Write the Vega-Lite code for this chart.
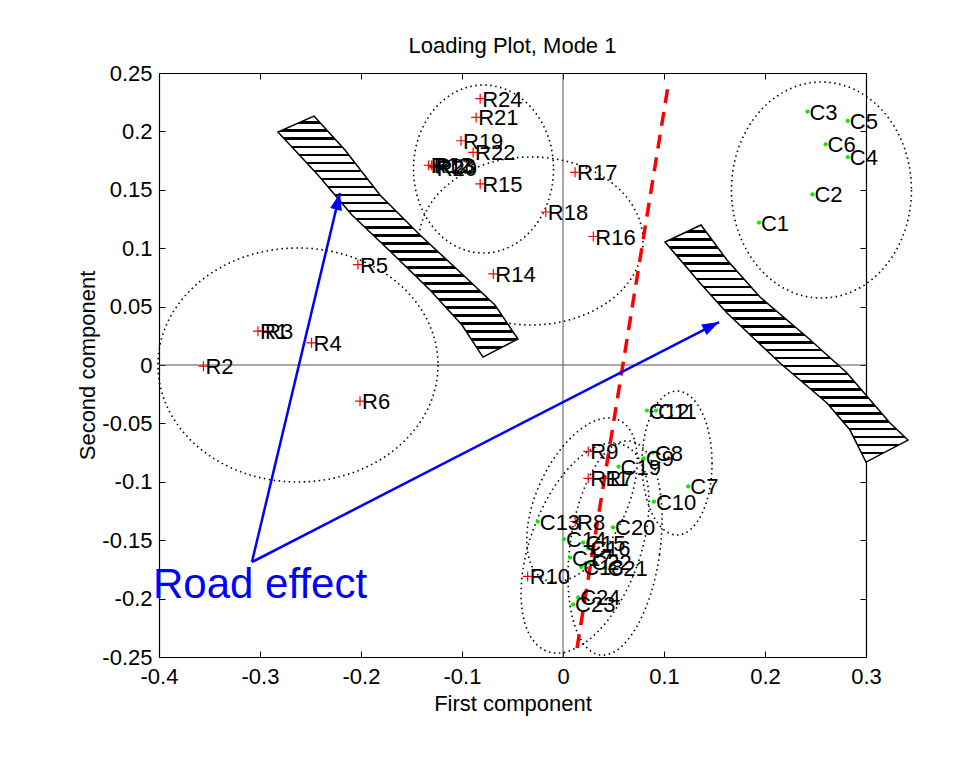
{
  "$schema": "https://vega.github.io/schema/vega-lite/v6.json",
  "width": 707,
  "height": 584,
  "autosize": {"type": "none"},
  "padding": {"left": 159, "top": 73, "right": 112, "bottom": 100},
  "background": "white",
  "config": {
    "view": {"stroke": null},
    "font": "Liberation Sans",
    "axis": {"grid": false}
  },
  "title": {"text": "Loading Plot, Mode 1", "fontSize": 22, "fontWeight": "normal", "font": "Liberation Sans", "color": "black", "baseline": "bottom", "offset": 19, "frame": "group", "dy": 37},
  "datasets": {
    "pts": [
      {"label": "R1", "group": "R", "x": -0.302, "y": 0.029},
      {"label": "R2", "group": "R", "x": -0.356, "y": -0.001},
      {"label": "R3", "group": "R", "x": -0.297, "y": 0.029},
      {"label": "R4", "group": "R", "x": -0.249, "y": 0.019},
      {"label": "R5", "group": "R", "x": -0.203, "y": 0.086},
      {"label": "R6", "group": "R", "x": -0.201, "y": -0.031},
      {"label": "R7", "group": "R", "x": 0.040, "y": -0.097},
      {"label": "R8", "group": "R", "x": 0.012, "y": -0.134},
      {"label": "R9", "group": "R", "x": 0.025, "y": -0.074},
      {"label": "R10", "group": "R", "x": -0.035, "y": -0.181},
      {"label": "R11", "group": "R", "x": 0.025, "y": -0.097},
      {"label": "R12", "group": "R", "x": -0.133, "y": 0.171},
      {"label": "R13", "group": "R", "x": -0.130, "y": 0.171},
      {"label": "R14", "group": "R", "x": -0.069, "y": 0.078},
      {"label": "R15", "group": "R", "x": -0.082, "y": 0.155},
      {"label": "R16", "group": "R", "x": 0.030, "y": 0.110},
      {"label": "R17", "group": "R", "x": 0.012, "y": 0.165},
      {"label": "R18", "group": "R", "x": -0.017, "y": 0.131},
      {"label": "R19", "group": "R", "x": -0.101, "y": 0.192},
      {"label": "R20", "group": "R", "x": -0.127, "y": 0.169},
      {"label": "R21", "group": "R", "x": -0.086, "y": 0.212},
      {"label": "R22", "group": "R", "x": -0.089, "y": 0.182},
      {"label": "R23", "group": "R", "x": -0.128, "y": 0.170},
      {"label": "R24", "group": "R", "x": -0.082, "y": 0.228},
      {"label": "C1", "group": "C", "x": 0.194, "y": 0.122},
      {"label": "C2", "group": "C", "x": 0.247, "y": 0.146},
      {"label": "C3", "group": "C", "x": 0.242, "y": 0.217},
      {"label": "C4", "group": "C", "x": 0.282, "y": 0.178},
      {"label": "C5", "group": "C", "x": 0.282, "y": 0.209},
      {"label": "C6", "group": "C", "x": 0.260, "y": 0.189},
      {"label": "C7", "group": "C", "x": 0.124, "y": -0.104},
      {"label": "C8", "group": "C", "x": 0.089, "y": -0.075},
      {"label": "C9", "group": "C", "x": 0.080, "y": -0.080},
      {"label": "C10", "group": "C", "x": 0.090, "y": -0.117},
      {"label": "C11", "group": "C", "x": 0.092, "y": -0.039},
      {"label": "C12", "group": "C", "x": 0.083, "y": -0.039},
      {"label": "C13", "group": "C", "x": -0.025, "y": -0.134},
      {"label": "C14", "group": "C", "x": 0.001, "y": -0.149},
      {"label": "C15", "group": "C", "x": 0.020, "y": -0.152},
      {"label": "C16", "group": "C", "x": 0.025, "y": -0.157},
      {"label": "C17", "group": "C", "x": 0.007, "y": -0.165},
      {"label": "C18", "group": "C", "x": 0.018, "y": -0.173},
      {"label": "C19", "group": "C", "x": 0.055, "y": -0.087},
      {"label": "C20", "group": "C", "x": 0.0495, "y": -0.139},
      {"label": "C21", "group": "C", "x": 0.042, "y": -0.174},
      {"label": "C22", "group": "C", "x": 0.026, "y": -0.169},
      {"label": "C23", "group": "C", "x": 0.010, "y": -0.205},
      {"label": "C24", "group": "C", "x": 0.015, "y": -0.199}
    ],
    "ell": [
      {"id": "A", "x": -0.2624, "y": 0.0},
      {"id": "B", "x": -0.0787, "y": 0.1678},
      {"id": "C", "x": -0.0317, "y": 0.1062},
      {"id": "D", "x": 0.2559, "y": 0.1498},
      {"id": "E1", "x": 0.1129, "y": -0.0839},
      {"id": "E2", "x": 0.0515, "y": -0.1567},
      {"id": "E3", "x": 0.0188, "y": -0.1156},
      {"id": "E4", "x": 0.0218, "y": -0.1567}
    ],
    "bands": [
      {"id": "L", "x": -0.1634, "y": 0.1104},
      {"id": "R", "x": 0.2198, "y": 0.0188}
    ],
    "segs": [
      {"id": "red", "x": 0.0139, "y": -0.2423, "x2": 0.104, "y2": 0.2389},
      {"id": "a1", "x": -0.308, "y": -0.1687, "x2": -0.2208, "y2": 0.1473},
      {"id": "a2", "x": -0.308, "y": -0.1687, "x2": 0.1545, "y2": 0.0368}
    ],
    "tips": [
      {"id": "a1", "x": -0.2208, "y": 0.1473},
      {"id": "a2", "x": 0.1545, "y": 0.0368}
    ],
    "zero": [
      {"x": -0.4, "y": 0, "x2": 0.3, "y2": 0},
      {"x": 0, "y": -0.25, "x2": 0, "y2": 0.25}
    ],
    "note": [
      {"text": "Road effect", "x": -0.4059, "y": -0.1884}
    ]
  },
  "encoding": {
    "x": {"field": "x", "type": "quantitative", "scale": {"domain": [-0.4, 0.3], "nice": false, "zero": false}, "axis": null},
    "y": {"field": "y", "type": "quantitative", "scale": {"domain": [-0.25, 0.25], "nice": false, "zero": false}, "axis": null}
  },
  "layer": [
    {
      "data": {"name": "zero"},
      "mark": {"type": "rule", "color": "#555555", "strokeWidth": 1},
      "encoding": {
        "x": {"field": "x", "type": "quantitative", "scale": {"domain": [-0.4, 0.3], "nice": false, "zero": false},
              "axis": {"orient": "top", "values": [-0.4, -0.3, -0.2, -0.1, 0, 0.1, 0.2, 0.3], "labels": false, "title": null, "tickSize": -6, "tickColor": "black", "domainColor": "black", "domainWidth": 1.2, "minExtent": 0, "maxExtent": 0}},
        "y": {"field": "y", "type": "quantitative", "scale": {"domain": [-0.25, 0.25], "nice": false, "zero": false},
              "axis": {"orient": "right", "values": [-0.25, -0.2, -0.15, -0.1, -0.05, 0, 0.05, 0.1, 0.15, 0.2, 0.25], "labels": false, "title": null, "tickSize": -6, "tickColor": "black", "domainColor": "black", "domainWidth": 1.2, "minExtent": 0, "maxExtent": 0}},
        "x2": {"field": "x2"},
        "y2": {"field": "y2"}
      }
    },
    {
      "data": {"name": "ell"},
      "transform": [{"filter": "datum.id == 'A'"}],
      "mark": {"type": "point", "filled": false, "opacity": 1, "stroke": "black", "strokeWidth": 1.6, "strokeDash": [1.5, 3.5], "size": 4,
               "shape": "M 140 0 C 140 64.6 77.3 117 0 117 C -77.3 117 -140 64.6 -140 0 C -140 -64.6 -77.3 -117 0 -117 C 77.3 -117 140 -64.6 140 0 Z"}
    },
    {
      "data": {"name": "ell"},
      "transform": [{"filter": "datum.id == 'B'"}],
      "mark": {"type": "point", "filled": false, "opacity": 1, "stroke": "black", "strokeWidth": 1.6, "strokeDash": [1.5, 3.5], "size": 4,
               "shape": "M 70 0 C 70 46.4 38.7 84 0 84 C -38.7 84 -70 46.4 -70 0 C -70 -46.4 -38.7 -84 0 -84 C 38.7 -84 70 -46.4 70 0 Z"}
    },
    {
      "data": {"name": "ell"},
      "transform": [{"filter": "datum.id == 'C'"}],
      "mark": {"type": "point", "filled": false, "opacity": 1, "stroke": "black", "strokeWidth": 1.6, "strokeDash": [1.5, 3.5], "size": 4,
               "shape": "M 112 0 C 112 46.4 61.9 84 0 84 C -61.9 84 -112 46.4 -112 0 C -112 -46.4 -61.9 -84 0 -84 C 61.9 -84 112 -46.4 112 0 Z"}
    },
    {
      "data": {"name": "ell"},
      "transform": [{"filter": "datum.id == 'D'"}],
      "mark": {"type": "point", "filled": false, "opacity": 1, "stroke": "black", "strokeWidth": 1.6, "strokeDash": [1.5, 3.5], "size": 4,
               "shape": "M 90 0 C 90 59.6 49.7 108 0 108 C -49.7 108 -90 59.6 -90 0 C -90 -59.6 -49.7 -108 0 -108 C 49.7 -108 90 -59.6 90 0 Z"}
    },
    {
      "data": {"name": "ell"},
      "transform": [{"filter": "datum.id == 'E1'"}],
      "mark": {"type": "point", "filled": false, "opacity": 1, "stroke": "black", "strokeWidth": 1.6, "strokeDash": [1.5, 3.5], "size": 4,
               "shape": "M 35 0 C 35 39.8 19.3 72 0 72 C -19.3 72 -35 39.8 -35 0 C -35 -39.8 -19.3 -72 0 -72 C 19.3 -72 35 -39.8 35 0 Z"}
    },
    {
      "data": {"name": "ell"},
      "transform": [{"filter": "datum.id == 'E2'"}],
      "mark": {"type": "point", "filled": false, "opacity": 1, "stroke": "black", "strokeWidth": 1.6, "strokeDash": [1.5, 3.5], "size": 4, "angle": 8,
               "shape": "M 45 0 C 45 59.6 24.9 108 0 108 C -24.9 108 -45 59.6 -45 0 C -45 -59.6 -24.9 -108 0 -108 C 24.9 -108 45 -59.6 45 0 Z"}
    },
    {
      "data": {"name": "ell"},
      "transform": [{"filter": "datum.id == 'E3'"}],
      "mark": {"type": "point", "filled": false, "opacity": 1, "stroke": "black", "strokeWidth": 1.6, "strokeDash": [1.5, 3.5], "size": 4, "angle": 25,
               "shape": "M 45 0 C 45 48.6 24.9 88 0 88 C -24.9 88 -45 48.6 -45 0 C -45 -48.6 -24.9 -88 0 -88 C 24.9 -88 45 -48.6 45 0 Z"}
    },
    {
      "data": {"name": "ell"},
      "transform": [{"filter": "datum.id == 'E4'"}],
      "mark": {"type": "point", "filled": false, "opacity": 1, "stroke": "black", "strokeWidth": 1.6, "strokeDash": [1.5, 3.5], "size": 4, "angle": 20,
               "shape": "M 55 0 C 55 60.8 30.4 110 0 110 C -30.4 110 -55 60.8 -55 0 C -55 -60.8 -30.4 -110 0 -110 C 30.4 -110 55 -60.8 55 0 Z"}
    },
    {
      "data": {"name": "bands"},
      "transform": [{"filter": "datum.id == 'L'"}],
      "mark": {"type": "point", "filled": true, "opacity": 1, "stroke": "black", "strokeWidth": 1.5, "size": 4,
               "shape": "M -84 -120 L -53 -86 L -18 -41 L 22 -1 L 62 36 L 97 69 L 120 103 L 85 121 L 64 89 L 32 54 L -6 17 L -46 -21 L -80 -61 L -120 -104 Z",
               "fill": {"gradient": "linear", "x1": 0, "y1": 0, "x2": 0, "y2": 1, "stops": [
                 {"offset": 0, "color": "white"}, {"offset": 0.022, "color": "white"}, {"offset": 0.022, "color": "black"}, {"offset": 0.0333, "color": "black"},
                 {"offset": 0.0333, "color": "white"}, {"offset": 0.0556, "color": "white"}, {"offset": 0.0556, "color": "black"}, {"offset": 0.0667, "color": "black"},
                 {"offset": 0.0667, "color": "white"}, {"offset": 0.0889, "color": "white"}, {"offset": 0.0889, "color": "black"}, {"offset": 0.1, "color": "black"},
                 {"offset": 0.1, "color": "white"}, {"offset": 0.1222, "color": "white"}, {"offset": 0.1222, "color": "black"}, {"offset": 0.1333, "color": "black"},
                 {"offset": 0.1333, "color": "white"}, {"offset": 0.1556, "color": "white"}, {"offset": 0.1556, "color": "black"}, {"offset": 0.1667, "color": "black"},
                 {"offset": 0.1667, "color": "white"}, {"offset": 0.1889, "color": "white"}, {"offset": 0.1889, "color": "black"}, {"offset": 0.2, "color": "black"},
                 {"offset": 0.2, "color": "white"}, {"offset": 0.2222, "color": "white"}, {"offset": 0.2222, "color": "black"}, {"offset": 0.2333, "color": "black"},
                 {"offset": 0.2333, "color": "white"}, {"offset": 0.2556, "color": "white"}, {"offset": 0.2556, "color": "black"}, {"offset": 0.2667, "color": "black"},
                 {"offset": 0.2667, "color": "white"}, {"offset": 0.2889, "color": "white"}, {"offset": 0.2889, "color": "black"}, {"offset": 0.3, "color": "black"},
                 {"offset": 0.3, "color": "white"}, {"offset": 0.3222, "color": "white"}, {"offset": 0.3222, "color": "black"}, {"offset": 0.3333, "color": "black"},
                 {"offset": 0.3333, "color": "white"}, {"offset": 0.3556, "color": "white"}, {"offset": 0.3556, "color": "black"}, {"offset": 0.3667, "color": "black"},
                 {"offset": 0.3667, "color": "white"}, {"offset": 0.3889, "color": "white"}, {"offset": 0.3889, "color": "black"}, {"offset": 0.4, "color": "black"},
                 {"offset": 0.4, "color": "white"}, {"offset": 0.4222, "color": "white"}, {"offset": 0.4222, "color": "black"}, {"offset": 0.4333, "color": "black"},
                 {"offset": 0.4333, "color": "white"}, {"offset": 0.4556, "color": "white"}, {"offset": 0.4556, "color": "black"}, {"offset": 0.4667, "color": "black"},
                 {"offset": 0.4667, "color": "white"}, {"offset": 0.4889, "color": "white"}, {"offset": 0.4889, "color": "black"}, {"offset": 0.5, "color": "black"},
                 {"offset": 0.5, "color": "white"}, {"offset": 0.5222, "color": "white"}, {"offset": 0.5222, "color": "black"}, {"offset": 0.5333, "color": "black"},
                 {"offset": 0.5333, "color": "white"}, {"offset": 0.5556, "color": "white"}, {"offset": 0.5556, "color": "black"}, {"offset": 0.5667, "color": "black"},
                 {"offset": 0.5667, "color": "white"}, {"offset": 0.5889, "color": "white"}, {"offset": 0.5889, "color": "black"}, {"offset": 0.6, "color": "black"},
                 {"offset": 0.6, "color": "white"}, {"offset": 0.6222, "color": "white"}, {"offset": 0.6222, "color": "black"}, {"offset": 0.6333, "color": "black"},
                 {"offset": 0.6333, "color": "white"}, {"offset": 0.6556, "color": "white"}, {"offset": 0.6556, "color": "black"}, {"offset": 0.6667, "color": "black"},
                 {"offset": 0.6667, "color": "white"}, {"offset": 0.6889, "color": "white"}, {"offset": 0.6889, "color": "black"}, {"offset": 0.7, "color": "black"},
                 {"offset": 0.7, "color": "white"}, {"offset": 0.7222, "color": "white"}, {"offset": 0.7222, "color": "black"}, {"offset": 0.7333, "color": "black"},
                 {"offset": 0.7333, "color": "white"}, {"offset": 0.7556, "color": "white"}, {"offset": 0.7556, "color": "black"}, {"offset": 0.7667, "color": "black"},
                 {"offset": 0.7667, "color": "white"}, {"offset": 0.7889, "color": "white"}, {"offset": 0.7889, "color": "black"}, {"offset": 0.8, "color": "black"},
                 {"offset": 0.8, "color": "white"}, {"offset": 0.8222, "color": "white"}, {"offset": 0.8222, "color": "black"}, {"offset": 0.8333, "color": "black"},
                 {"offset": 0.8333, "color": "white"}, {"offset": 0.8556, "color": "white"}, {"offset": 0.8556, "color": "black"}, {"offset": 0.8667, "color": "black"},
                 {"offset": 0.8667, "color": "white"}, {"offset": 0.8889, "color": "white"}, {"offset": 0.8889, "color": "black"}, {"offset": 0.9, "color": "black"},
                 {"offset": 0.9, "color": "white"}, {"offset": 0.9222, "color": "white"}, {"offset": 0.9222, "color": "black"}, {"offset": 0.9333, "color": "black"},
                 {"offset": 0.9333, "color": "white"}, {"offset": 0.9556, "color": "white"}, {"offset": 0.9556, "color": "black"}, {"offset": 0.9667, "color": "black"},
                 {"offset": 0.9667, "color": "white"}, {"offset": 1, "color": "white"}
               ]}}
    },
    {
      "data": {"name": "bands"},
      "transform": [{"filter": "datum.id == 'R'"}],
      "mark": {"type": "point", "filled": true, "opacity": 1, "stroke": "black", "strokeWidth": 1.5, "size": 4,
               "shape": "M -84 -118 L -58 -83 L -25 -46 L 22 -6 L 62 30 L 105 80 L 123 97 L 81 119 L 65 87 L 42 60 L -5 20 L -58 -30 L -85 -60 L -120 -101 Z",
               "fill": {"gradient": "linear", "x1": 0, "y1": 0, "x2": 0, "y2": 1, "stops": [
                 {"offset": 0, "color": "white"}, {"offset": 0.022, "color": "white"}, {"offset": 0.022, "color": "black"}, {"offset": 0.0333, "color": "black"},
                 {"offset": 0.0333, "color": "white"}, {"offset": 0.0556, "color": "white"}, {"offset": 0.0556, "color": "black"}, {"offset": 0.0667, "color": "black"},
                 {"offset": 0.0667, "color": "white"}, {"offset": 0.0889, "color": "white"}, {"offset": 0.0889, "color": "black"}, {"offset": 0.1, "color": "black"},
                 {"offset": 0.1, "color": "white"}, {"offset": 0.1222, "color": "white"}, {"offset": 0.1222, "color": "black"}, {"offset": 0.1333, "color": "black"},
                 {"offset": 0.1333, "color": "white"}, {"offset": 0.1556, "color": "white"}, {"offset": 0.1556, "color": "black"}, {"offset": 0.1667, "color": "black"},
                 {"offset": 0.1667, "color": "white"}, {"offset": 0.1889, "color": "white"}, {"offset": 0.1889, "color": "black"}, {"offset": 0.2, "color": "black"},
                 {"offset": 0.2, "color": "white"}, {"offset": 0.2222, "color": "white"}, {"offset": 0.2222, "color": "black"}, {"offset": 0.2333, "color": "black"},
                 {"offset": 0.2333, "color": "white"}, {"offset": 0.2556, "color": "white"}, {"offset": 0.2556, "color": "black"}, {"offset": 0.2667, "color": "black"},
                 {"offset": 0.2667, "color": "white"}, {"offset": 0.2889, "color": "white"}, {"offset": 0.2889, "color": "black"}, {"offset": 0.3, "color": "black"},
                 {"offset": 0.3, "color": "white"}, {"offset": 0.3222, "color": "white"}, {"offset": 0.3222, "color": "black"}, {"offset": 0.3333, "color": "black"},
                 {"offset": 0.3333, "color": "white"}, {"offset": 0.3556, "color": "white"}, {"offset": 0.3556, "color": "black"}, {"offset": 0.3667, "color": "black"},
                 {"offset": 0.3667, "color": "white"}, {"offset": 0.3889, "color": "white"}, {"offset": 0.3889, "color": "black"}, {"offset": 0.4, "color": "black"},
                 {"offset": 0.4, "color": "white"}, {"offset": 0.4222, "color": "white"}, {"offset": 0.4222, "color": "black"}, {"offset": 0.4333, "color": "black"},
                 {"offset": 0.4333, "color": "white"}, {"offset": 0.4556, "color": "white"}, {"offset": 0.4556, "color": "black"}, {"offset": 0.4667, "color": "black"},
                 {"offset": 0.4667, "color": "white"}, {"offset": 0.4889, "color": "white"}, {"offset": 0.4889, "color": "black"}, {"offset": 0.5, "color": "black"},
                 {"offset": 0.5, "color": "white"}, {"offset": 0.5222, "color": "white"}, {"offset": 0.5222, "color": "black"}, {"offset": 0.5333, "color": "black"},
                 {"offset": 0.5333, "color": "white"}, {"offset": 0.5556, "color": "white"}, {"offset": 0.5556, "color": "black"}, {"offset": 0.5667, "color": "black"},
                 {"offset": 0.5667, "color": "white"}, {"offset": 0.5889, "color": "white"}, {"offset": 0.5889, "color": "black"}, {"offset": 0.6, "color": "black"},
                 {"offset": 0.6, "color": "white"}, {"offset": 0.6222, "color": "white"}, {"offset": 0.6222, "color": "black"}, {"offset": 0.6333, "color": "black"},
                 {"offset": 0.6333, "color": "white"}, {"offset": 0.6556, "color": "white"}, {"offset": 0.6556, "color": "black"}, {"offset": 0.6667, "color": "black"},
                 {"offset": 0.6667, "color": "white"}, {"offset": 0.6889, "color": "white"}, {"offset": 0.6889, "color": "black"}, {"offset": 0.7, "color": "black"},
                 {"offset": 0.7, "color": "white"}, {"offset": 0.7222, "color": "white"}, {"offset": 0.7222, "color": "black"}, {"offset": 0.7333, "color": "black"},
                 {"offset": 0.7333, "color": "white"}, {"offset": 0.7556, "color": "white"}, {"offset": 0.7556, "color": "black"}, {"offset": 0.7667, "color": "black"},
                 {"offset": 0.7667, "color": "white"}, {"offset": 0.7889, "color": "white"}, {"offset": 0.7889, "color": "black"}, {"offset": 0.8, "color": "black"},
                 {"offset": 0.8, "color": "white"}, {"offset": 0.8222, "color": "white"}, {"offset": 0.8222, "color": "black"}, {"offset": 0.8333, "color": "black"},
                 {"offset": 0.8333, "color": "white"}, {"offset": 0.8556, "color": "white"}, {"offset": 0.8556, "color": "black"}, {"offset": 0.8667, "color": "black"},
                 {"offset": 0.8667, "color": "white"}, {"offset": 0.8889, "color": "white"}, {"offset": 0.8889, "color": "black"}, {"offset": 0.9, "color": "black"},
                 {"offset": 0.9, "color": "white"}, {"offset": 0.9222, "color": "white"}, {"offset": 0.9222, "color": "black"}, {"offset": 0.9333, "color": "black"},
                 {"offset": 0.9333, "color": "white"}, {"offset": 0.9556, "color": "white"}, {"offset": 0.9556, "color": "black"}, {"offset": 0.9667, "color": "black"},
                 {"offset": 0.9667, "color": "white"}, {"offset": 1, "color": "white"}
               ]}}
    },
    {
      "data": {"name": "pts"},
      "transform": [{"filter": "datum.group == 'R'"}],
      "mark": {"type": "point", "filled": false, "opacity": 1, "stroke": "#ff0000", "strokeWidth": 1.2, "size": 100, "shape": "M -1 0 L 1 0 M 0 -1 L 0 1"},
      "encoding": {
        "x": {"field": "x", "type": "quantitative", "scale": {"domain": [-0.4, 0.3], "nice": false, "zero": false},
              "axis": {"orient": "bottom", "values": [-0.4, -0.3, -0.2, -0.1, 0, 0.1, 0.2, 0.3], "labelExpr": "toString(datum.value)", "title": "First component",
                       "tickSize": -6, "tickColor": "black", "domainColor": "black", "domainWidth": 1.2, "labelFontSize": 22, "labelColor": "black", "labelFont": "Liberation Sans",
                       "labelPadding": 15, "labelFlush": false, "labelOverlap": false, "titleFontSize": 22, "titleFontWeight": "normal", "titleColor": "black", "titleFont": "Liberation Sans", "titlePadding": 6}},
        "y": {"field": "y", "type": "quantitative", "scale": {"domain": [-0.25, 0.25], "nice": false, "zero": false},
              "axis": {"orient": "left", "values": [-0.25, -0.2, -0.15, -0.1, -0.05, 0, 0.05, 0.1, 0.15, 0.2, 0.25], "labelExpr": "toString(datum.value)", "title": "Second component",
                       "tickSize": -6, "tickColor": "black", "domainColor": "black", "domainWidth": 1.2, "labelFontSize": 22, "labelColor": "black", "labelFont": "Liberation Sans",
                       "labelPadding": 13, "labelFlush": false, "labelOverlap": false, "titleFontSize": 22, "titleFontWeight": "normal", "titleColor": "black", "titleFont": "Liberation Sans", "titlePadding": 2}}
      }
    },
    {
      "data": {"name": "pts"},
      "transform": [{"filter": "datum.group == 'C'"}],
      "mark": {"type": "point", "filled": true, "opacity": 1, "color": "#00ee00", "size": 18, "shape": "circle", "strokeWidth": 0}
    },
    {
      "data": {"name": "segs"},
      "transform": [{"filter": "datum.id == 'red'"}],
      "mark": {"type": "rule", "color": "#ff0000", "strokeWidth": 3.5, "strokeDash": [14, 9]},
      "encoding": {"x2": {"field": "x2"}, "y2": {"field": "y2"}}
    },
    {
      "data": {"name": "segs"},
      "transform": [{"filter": "datum.id != 'red'"}],
      "mark": {"type": "rule", "color": "#0000ff", "strokeWidth": 2.5},
      "encoding": {"x2": {"field": "x2"}, "y2": {"field": "y2"}}
    },
    {
      "data": {"name": "tips"},
      "transform": [{"filter": "datum.id == 'a1'"}],
      "mark": {"type": "point", "filled": true, "opacity": 1, "color": "#0000ff", "size": 4, "angle": 13.4, "shape": "M 0 0 L 6 17 L -6 17 Z"}
    },
    {
      "data": {"name": "tips"},
      "transform": [{"filter": "datum.id == 'a2'"}],
      "mark": {"type": "point", "filled": true, "opacity": 1, "color": "#0000ff", "size": 4, "angle": 62.8, "shape": "M 0 0 L 6 17 L -6 17 Z"}
    },
    {
      "data": {"name": "pts"},
      "mark": {"type": "text", "align": "left", "baseline": "middle", "dx": 2, "dy": 1, "fontSize": 22, "font": "Liberation Sans", "color": "black"},
      "encoding": {"text": {"field": "label"}}
    },
    {
      "data": {"name": "note"},
      "mark": {"type": "text", "align": "left", "baseline": "middle", "fontSize": 42, "font": "Liberation Sans", "color": "#0000ff"},
      "encoding": {"text": {"field": "text"}}
    }
  ]
}
